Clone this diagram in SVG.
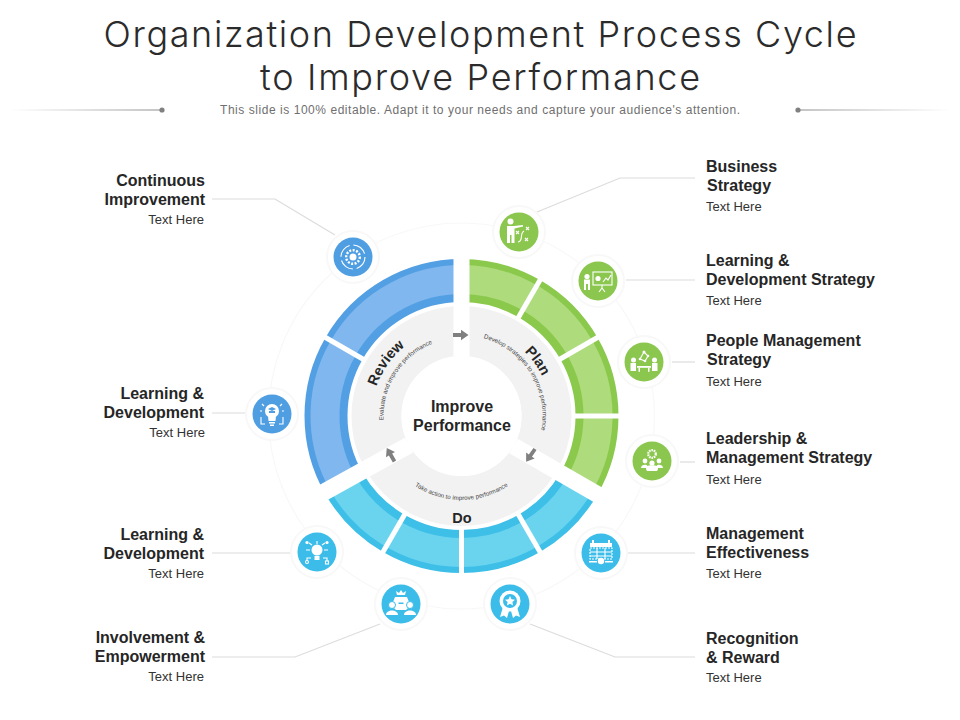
<svg xmlns="http://www.w3.org/2000/svg" width="960" height="720" viewBox="0 0 960 720">
<style>
text{font-family:"Liberation Sans",Arial,sans-serif;fill:#262626}
.title{font-family:"Inter","Open Sans",sans-serif;font-weight:300;font-size:36px;fill:#2b2b2b;text-anchor:middle;font-variant-ligatures:none}
.sub{font-size:12px;fill:#6f6f6f;text-anchor:middle}
.h{font-size:16px;font-weight:bold}
.t{font-size:13px;fill:#333}
.r{text-anchor:end}
.stage{font-size:14.5px;font-weight:bold;text-anchor:middle}
.small{font-size:6.2px;fill:#444;text-anchor:middle}
.lead{fill:none;stroke:#dcdcdc;stroke-width:1.2}
.gap{stroke:#fff;stroke-width:17}
.div{stroke:#fff;stroke-width:5}
.halo{fill:#fff;stroke:#f8f8f8;stroke-width:2}
.gn{fill:#8bc74f}.bl{fill:#4f9ee2}.cy{fill:#3cbde9}
.w{fill:#fff}
.s{fill:none;stroke:#fff;stroke-width:1.1}
</style>
<defs>
<linearGradient id="lg" x1="0" x2="1" y1="0" y2="0"><stop offset="0" stop-color="#fff"/><stop offset="1" stop-color="#8a8a8a"/></linearGradient>
<linearGradient id="rg" x1="0" x2="1" y1="0" y2="0"><stop offset="0" stop-color="#8a8a8a"/><stop offset="1" stop-color="#fff"/></linearGradient>
<path id="arrow" fill="#808080" d="M0,-1.9H8V-5.2L15.5,0L8,5.2V1.9H0Z"/>
<path id="pPlan" d="M483.3,328.7A90,90 0 0 1 551.3,422.3"/>
<path id="pPlanS" d="M479.7,337.1A81,81 0 0 1 540.4,434.2"/>
<path id="pRev" d="M371.9,423.8A90,90 0 0 1 438.2,329.1"/>
<path id="pRevS" d="M384.7,429.5A78,78 0 0 1 441.3,340.7"/>
<path id="pDoS" d="M402.1,475.4A84,84 0 0 0 520.9,475.4"/>
</defs>

<g id="header">
<text class="title" x="480" y="47" textLength="753" lengthAdjust="spacing">Organization Development Process Cycle</text>
<text class="title" x="480" y="90" textLength="440" lengthAdjust="spacing">to Improve Performance</text>
<text class="sub" x="480" y="114" textLength="520" lengthAdjust="spacing">This slide is 100% editable. Adapt it to your needs and capture your audience's attention.</text>
<rect x="10" y="109.5" width="152" height="1" fill="url(#lg)"/><circle cx="162" cy="110" r="2.6" fill="#808080"/>
<rect x="798" y="109.5" width="152" height="1" fill="url(#rg)"/><circle cx="798" cy="110" r="2.6" fill="#808080"/>
</g>

<g id="connectors">
<circle cx="461.5" cy="416" r="193" fill="none" stroke="#f8f8f8" stroke-width="1.2"/>
<polyline class="lead" points="537,212 620,178 695,178"/>
<polyline class="lead" points="626,280 695,280"/>
<polyline class="lead" points="672,362 695,362"/>
<polyline class="lead" points="680,462 695,462"/>
<polyline class="lead" points="628,553 695,553"/>
<polyline class="lead" points="530,624 615,657 695,657"/>
<polyline class="lead" points="380,624 295,657 212,657"/>
<polyline class="lead" points="212,553 290,553"/>
<polyline class="lead" points="212,413 245,413"/>
<polyline class="lead" points="212,199 275,199 335,235"/>
</g>

<g id="wheel">
<g id="ring-plan">
<path d="M461.500,280.500A135.500,135.500 0 0 1 578.850,483.750" fill="none" stroke="#8bc94d" stroke-width="43"/>
<path d="M461.500,279.500A136.500,136.500 0 0 1 579.700,484.250" fill="none" stroke="#aedb7c" stroke-width="29"/>
</g>
<g id="ring-do">
<path d="M578.850,483.750A135.500,135.500 0 0 1 344.150,483.750" fill="none" stroke="#3dbfe8" stroke-width="43"/>
<path d="M579.700,484.250A136.500,136.500 0 0 1 343.300,484.250" fill="none" stroke="#6ad4ef" stroke-width="29"/>
</g>
<g id="ring-review">
<path d="M344.150,483.750A135.500,135.500 0 0 1 461.500,280.500" fill="none" stroke="#539fe3" stroke-width="43"/>
<path d="M343.300,484.250A136.500,136.500 0 0 1 461.500,279.500" fill="none" stroke="#7fb7ee" stroke-width="29"/>
</g>
<circle cx="461.5" cy="416" r="85" fill="none" stroke="#f2f2f2" stroke-width="50"/>
<line class="gap" x1="461.5" y1="356" x2="461.5" y2="254" style="stroke-width:16"/>
<line class="gap" x1="461.5" y1="356" x2="461.5" y2="254" transform="rotate(120 461.5 416)"/>
<line class="gap" x1="461.5" y1="356" x2="461.5" y2="254" transform="rotate(241 461.5 416)"/>
<line class="div" x1="461.5" y1="304" x2="461.5" y2="256" transform="rotate(30 461.5 416)"/>
<line class="div" x1="461.5" y1="304" x2="461.5" y2="256" transform="rotate(60 461.5 416)"/>
<line class="div" x1="461.5" y1="304" x2="461.5" y2="256" transform="rotate(90 461.5 416)"/>
<line class="div" x1="461.5" y1="304" x2="461.5" y2="256" transform="rotate(150 461.5 416)"/>
<line class="div" x1="461.5" y1="304" x2="461.5" y2="256" transform="rotate(180 461.5 416)"/>
<line class="div" x1="461.5" y1="304" x2="461.5" y2="256" transform="rotate(210 461.5 416)"/>
<line class="div" x1="461.5" y1="304" x2="461.5" y2="256" transform="rotate(300 461.5 416)"/>
<circle cx="461.5" cy="416" r="60" fill="#fff"/>
<use href="#arrow" transform="translate(453,335)"/>
<use href="#arrow" transform="translate(535,449) rotate(125)"/>
<use href="#arrow" transform="translate(394.500,461.500) rotate(-120)"/>
</g>

<g id="stage-plan">
<text class="stage"><textPath href="#pPlan" startOffset="50%">Plan</textPath></text>
<text class="small"><textPath href="#pPlanS" startOffset="50%">Develop strategies to improve performance</textPath></text>
</g>
<g id="stage-review">
<text class="stage"><textPath href="#pRev" startOffset="50%">Review</textPath></text>
<text class="small"><textPath href="#pRevS" startOffset="50%">Evaluate and improve performance</textPath></text>
</g>
<g id="stage-do">
<text class="stage" x="462" y="523">Do</text>
<text class="small"><textPath href="#pDoS" startOffset="50%">Take action to improve performance</textPath></text>
</g>
<g id="center">
<text class="h" x="462" y="412" text-anchor="middle">Improve</text>
<text class="h" x="462" y="431" text-anchor="middle">Performance</text>
</g>

<g id="node-business-strategy">
<g transform="translate(519,232)">
<circle class="halo" r="26"/><circle class="gn" r="19.5"/>
<circle class="w" cx="-8.500" cy="-10.500" r="3"/>
<path class="w" d="M-12,-6H-5L4,-7V-5.400L-4.500,-3.500V11H-7.500V3H-9V11H-12Z"/>
<path class="s" d="M-1,10C5,9 0,2 5,-1"/>
<path class="s" d="M-3,-1L0,2M0,-1L-3,2M7,-5L10,-2M10,-5L7,-2M6,6L9,9M9,6L6,9"/>
</g>
<text class="h" x="706" y="172">Business</text>
<text class="h" x="707" y="191">Strategy</text>
<text class="t" x="706" y="211">Text Here</text>
</g>

<g id="node-learning-development-strategy">
<g transform="translate(598,281)">
<circle class="halo" r="26"/><circle class="gn" r="19.5"/>
<circle class="w" cx="-11" cy="-4.500" r="2.600"/>
<path class="w" d="M-14,-1.500H-8V9H-10V3H-12V9H-14Z"/>
<rect class="s" x="-5" y="-9" width="19" height="13"/>
<circle class="w" cx="0" cy="-2.500" r="2.600"/>
<path class="s" d="M5,1L8,-3L10,-1L13,-6M4,4V7M4,7L1,11M4,7L7,11"/>
</g>
<text class="h" x="706" y="266">Learning &amp;</text>
<text class="h" x="706" y="285">Development Strategy</text>
<text class="t" x="706" y="305">Text Here</text>
</g>

<g id="node-people-management-strategy">
<g transform="translate(644,362)">
<circle class="halo" r="26"/><circle class="gn" r="19.5"/>
<circle class="w" cx="-10.500" cy="-2" r="2.500"/><circle class="w" cx="10.500" cy="-2" r="2.500"/>
<path class="w" d="M-13.500,1H-8V9H-13.500ZM8,1H13.500V9H8Z"/>
<rect class="w" x="-7" y="4" width="14" height="1.800"/>
<rect class="w" x="-5.500" y="5.800" width="1.500" height="4"/><rect class="w" x="4" y="5.800" width="1.500" height="4"/>
<path class="s" d="M-4,-3L0,-10L4,-6M-4,-3L1,-1L4,-6"/>
<circle class="w" cx="0" cy="-10" r="1.500"/><circle class="w" cx="4" cy="-6" r="1.300"/><circle class="w" cx="-4" cy="-3" r="1.300"/><circle class="w" cx="1" cy="-1" r="1.300"/>
</g>
<text class="h" x="706" y="346">People Management</text>
<text class="h" x="707" y="365">Strategy</text>
<text class="t" x="706" y="386">Text Here</text>
</g>

<g id="node-leadership-management-strategy">
<g transform="translate(652,461)">
<circle class="halo" r="26"/><circle class="gn" r="19.5"/>
<circle class="s" cy="-7" r="3.800" style="stroke-width:2.200" stroke-dasharray="1.600 .8"/>
<circle class="w" cx="-7" cy="0" r="2.400"/><circle class="w" cx="7" cy="0" r="2.400"/><circle class="w" cy="2" r="2.600"/>
<path class="w" d="M-11,7C-11,3 -5,3 -4.500,5C-4,4 4,4 4.500,5C5,3 11,3 11,7H6C6,9 5,10 5,10H-5C-5,10 -6,9 -6,7Z"/>
</g>
<text class="h" x="706" y="444">Leadership &amp;</text>
<text class="h" x="706" y="463">Management Strategy</text>
<text class="t" x="706" y="484">Text Here</text>
</g>

<g id="node-management-effectiveness">
<g transform="translate(601,553)">
<circle class="halo" r="26"/><circle class="cy" r="19.5"/>
<rect class="w" x="-11" y="-10" width="22" height="4"/>
<path class="w" d="M-9,-13h2v3h-2ZM7,-13h2v3h-2Z"/>
<rect class="s" x="-11" y="-5" width="22" height="11" stroke-dasharray="2 1"/>
<path class="s" d="M-11,-1H11M-11,3H11M-4,-5V6M4,-5V6"/>
<circle class="w" cy="8" r="3.200"/>
<rect class="w" x="-12" y="8" width="8" height="1.500"/><rect class="w" x="4" y="8" width="8" height="1.500"/>
</g>
<text class="h" x="706" y="539">Management</text>
<text class="h" x="706" y="558">Effectiveness</text>
<text class="t" x="706" y="578">Text Here</text>
</g>

<g id="node-recognition-reward">
<g transform="translate(510,604)">
<circle class="halo" r="26"/><circle class="cy" r="19.5"/>
<path class="w" d="M-7,3L-10,13L-6,11.500L-3,14L-1,7ZM7,3L10,13L6,11.500L3,14L1,7Z"/>
<circle class="w" cy="-3" r="10.500"/>
<circle class="cy" cy="-3" r="7"/>
<path class="w" d="M0,-8L1.500,-4.700L5,-4.300L2.400,-2L3.100,1.500L0,-.3L-3.100,1.500L-2.400,-2L-5,-4.300L-1.500,-4.700Z"/>
</g>
<text class="h" x="706" y="644">Recognition</text>
<text class="h" x="706" y="663">&amp; Reward</text>
<text class="t" x="706" y="682">Text Here</text>
</g>

<g id="node-involvement-empowerment">
<g transform="translate(401,604)">
<circle class="halo" r="26"/><circle class="cy" r="19.5"/>
<path class="w" d="M-4,-9L-5,-13L-2,-11L0,-14L2,-11L5,-13L4,-9Z"/>
<path class="w" d="M-6,-7H6L8,-2V3L5,6H-5L-8,3V-2Z"/>
<rect class="cy" x="-2.500" y="-1.500" width="5" height="1.500"/>
<circle class="w" cx="-9" cy="1" r="3.500" stroke="#3cbde9"/><circle class="w" cx="9" cy="1" r="3.500" stroke="#3cbde9"/>
<path class="w" d="M-15,11C-15,5 -3,5 -3,11ZM3,11C3,5 15,5 15,11Z"/>
</g>
<text class="h r" x="205" y="643">Involvement &amp;</text>
<text class="h r" x="205" y="662">Empowerment</text>
<text class="t r" x="204" y="681">Text Here</text>
</g>

<g id="node-learning-development-bottom">
<g transform="translate(317,552)">
<circle class="halo" r="26"/><circle class="cy" r="19.5"/>
<circle class="w" cy="-2" r="5.500"/><rect class="w" x="-2.500" y="4" width="5" height="4"/>
<path class="s" d="M0,-11V-8M-7,-2H-11M7,-2H11M-6,6H-10V9M6,6H10V9M-5,-7L-8,-9M5,-7L8,-9"/>
<circle class="w" cx="-10" cy="-9.500" r="1.600"/><circle class="w" cx="10" cy="-9.500" r="1.600"/>
<circle class="s" cx="-10" cy="10" r="1.500"/><rect class="s" x="8.500" y="9" width="3" height="3"/>
</g>
<text class="h r" x="204" y="540">Learning &amp;</text>
<text class="h r" x="204" y="559">Development</text>
<text class="t r" x="204" y="578">Text Here</text>
</g>

<g id="node-learning-development-left">
<g transform="translate(272,414)">
<circle class="halo" r="26"/><circle class="bl" r="19.5"/>
<circle class="w" cy="-3" r="7"/><path class="w" d="M-4,2H4L3.500,7H-3.500ZM-3,8H3V9.500H-3ZM-2,10.500H2V12H-2Z"/>
<path class="bl" d="M-4,-5L0,-7L4,-5L0,-3ZM-3,-3V-1H3V-3"/>
<path class="s" d="M-11,3V10H-7M11,3V10H7M-10,-10L-8,-8M10,-10L8,-8M-12,-3H-10M12,-3H10"/>
</g>
<text class="h r" x="204" y="399">Learning &amp;</text>
<text class="h r" x="204" y="418">Development</text>
<text class="t r" x="205" y="437">Text Here</text>
</g>

<g id="node-continuous-improvement">
<g transform="translate(353,257)">
<circle class="halo" r="26"/><circle class="bl" r="19.5"/>
<circle class="s" r="12" stroke-dasharray="15 3.850"/>
<circle class="s" r="6.800" style="stroke-width:2.400" stroke-dasharray="2 1.500"/>
<circle class="w" r="3.500"/>
</g>
<text class="h r" x="205" y="186">Continuous</text>
<text class="h r" x="205" y="205">Improvement</text>
<text class="t r" x="204" y="224">Text Here</text>
</g>
</svg>
